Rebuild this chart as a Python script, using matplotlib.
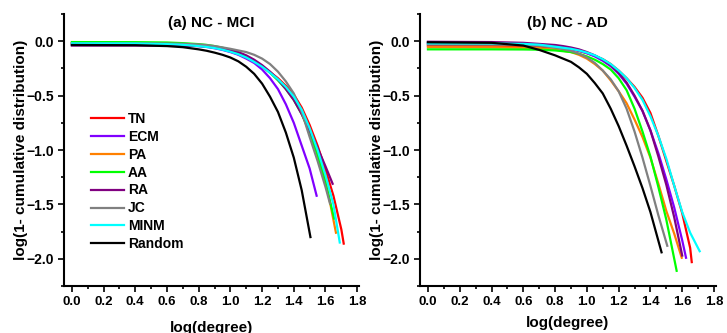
import matplotlib
matplotlib.use("Agg")
import matplotlib.pyplot as plt
from matplotlib.ticker import MultipleLocator

plt.rcParams['font.family'] = ['Liberation Sans', 'DejaVu Sans']
plt.rcParams['font.weight'] = 'bold'

labels = ['TN', 'ECM', 'PA', 'AA', 'RA', 'JC', 'MINM', 'Random']
colors = ['#ff0000', '#8000ff', '#ff8000', '#00ff00', '#800080', '#808080', '#00ffff', '#000000']

# shared x positions (log degree) where values were read
xs = [0, 0.4, 0.6, 0.7, 0.8, 0.85, 0.9, 0.95, 1.0, 1.05, 1.1, 1.15, 1.2, 1.25,
      1.3, 1.35, 1.4, 1.45, 1.5, 1.55, 1.6, 1.65, 1.7]

# (a) NC - MCI : values on xs, then the last point of each curve
a_tn = [-0.02, -0.021, -0.025, -0.03, -0.04, -0.048, -0.06, -0.075, -0.095, -0.12, -0.15, -0.19, -0.235,
        -0.285, -0.34, -0.41, -0.49, -0.61, -0.77, -0.96, -1.18, -1.42, -1.73]
a_tn_end = (1.715, -1.86)
a_ecm = [-0.03, -0.03, -0.032, -0.036, -0.045, -0.053, -0.065, -0.08, -0.10, -0.125, -0.16, -0.20, -0.26,
         -0.34, -0.44, -0.58, -0.75, -0.96, -1.17]
a_ecm_end = (1.544, -1.42)
a_pa = [-0.015, -0.016, -0.02, -0.025, -0.035, -0.043, -0.053, -0.068, -0.088, -0.113, -0.145, -0.185, -0.23,
        -0.285, -0.35, -0.43, -0.52, -0.64, -0.81, -1.02, -1.27]
a_pa_end = (1.666, -1.76)
a_aa = [-0.008, -0.009, -0.012, -0.018, -0.027, -0.034, -0.045, -0.06, -0.08, -0.107, -0.14, -0.18, -0.23,
        -0.29, -0.36, -0.44, -0.54, -0.67, -0.84, -1.05, -1.30]
a_aa_end = (1.655, -1.63)
a_ra = [-0.04, -0.04, -0.041, -0.043, -0.045, -0.05, -0.057, -0.067, -0.08, -0.10, -0.13, -0.17, -0.22,
        -0.28, -0.35, -0.44, -0.54, -0.67, -0.82, -0.98, -1.15]
a_ra_end = (1.645, -1.31)
a_jc = [-0.02, -0.02, -0.021, -0.024, -0.03, -0.036, -0.045, -0.057, -0.07, -0.085, -0.10, -0.125, -0.16,
        -0.21, -0.28, -0.37, -0.48, -0.65, -0.88, -1.10, -1.34]
a_jc_end = (1.628, -1.49)
a_minm = [-0.02, -0.021, -0.027, -0.033, -0.045, -0.053, -0.063, -0.078, -0.097, -0.12, -0.15, -0.19, -0.235,
          -0.29, -0.35, -0.42, -0.51, -0.63, -0.80, -1.00, -1.23, -1.50]
a_minm_end = (1.69, -1.85)
a_rand = [-0.035, -0.037, -0.045, -0.055, -0.075, -0.088, -0.105, -0.125, -0.15, -0.185, -0.235, -0.30, -0.39,
          -0.51, -0.65, -0.84, -1.07, -1.37]
a_rand_end = (1.505, -1.80)

# (b) NC - AD
b_tn = [-0.04, -0.041, -0.045, -0.05, -0.058, -0.065, -0.075, -0.09, -0.11, -0.135, -0.165, -0.21, -0.27,
        -0.34, -0.42, -0.52, -0.66, -0.87, -1.10, -1.33, -1.58, -1.90]
b_tn_end = (1.66, -2.03)
b_ecm = [-0.02, -0.021, -0.025, -0.033, -0.05, -0.058, -0.07, -0.087, -0.11, -0.14, -0.18, -0.23, -0.30,
         -0.39, -0.51, -0.64, -0.82, -1.03, -1.27, -1.53, -1.83]
b_ecm_end = (1.624, -1.99)
b_pa = [-0.055, -0.056, -0.06, -0.065, -0.078, -0.088, -0.10, -0.125, -0.16, -0.21, -0.27, -0.36, -0.46,
        -0.57, -0.72, -0.88, -1.07, -1.31, -1.56, -1.77]
b_pa_end = (1.597, -1.99)
b_aa = [-0.075, -0.075, -0.076, -0.078, -0.085, -0.092, -0.10, -0.115, -0.14, -0.17, -0.21, -0.26, -0.34,
        -0.45, -0.62, -0.83, -1.06, -1.34, -1.64]
b_aa_end = (1.565, -2.11)
b_ra = [-0.005, -0.008, -0.015, -0.025, -0.035, -0.045, -0.058, -0.075, -0.10, -0.13, -0.17, -0.22, -0.29,
        -0.38, -0.50, -0.64, -0.82, -1.06, -1.32, -1.62]
b_ra_end = (1.60, -1.97)
b_jc = [-0.03, -0.031, -0.035, -0.042, -0.06, -0.073, -0.09, -0.115, -0.15, -0.20, -0.27, -0.35, -0.46,
        -0.62, -0.83, -1.07, -1.33, -1.60]
b_jc_end = (1.506, -1.88)
b_minm = [-0.02, -0.021, -0.025, -0.032, -0.05, -0.06, -0.07, -0.085, -0.105, -0.13, -0.165, -0.21, -0.27,
          -0.34, -0.43, -0.54, -0.69, -0.87, -1.08, -1.33, -1.57, -1.76]
b_minm_end = (1.71, -1.93)
b_rand = [-0.01, -0.015, -0.04, -0.08, -0.13, -0.16, -0.19, -0.24, -0.30, -0.385, -0.48, -0.62, -0.78,
          -0.96, -1.15, -1.35, -1.57]
b_rand_end = (1.47, -1.94)

panel_a = [(a_tn, a_tn_end), (a_ecm, a_ecm_end), (a_pa, a_pa_end), (a_aa, a_aa_end),
           (a_ra, a_ra_end), (a_jc, a_jc_end), (a_minm, a_minm_end), (a_rand, a_rand_end)]
panel_b = [(b_tn, b_tn_end), (b_ecm, b_ecm_end), (b_pa, b_pa_end), (b_aa, b_aa_end),
           (b_ra, b_ra_end), (b_jc, b_jc_end), (b_minm, b_minm_end), (b_rand, b_rand_end)]

fig = plt.figure(figsize=(7.27, 3.33), dpi=100)
ax1 = fig.add_axes([0.088, 0.141, 0.4055, 0.817])
ax2 = fig.add_axes([0.5777, 0.141, 0.4066, 0.817])

for ax, data, title, xl_y in [(ax1, panel_a, '(a) NC - MCI', -0.13),
                              (ax2, panel_b, '(b) NC - AD', -0.11)]:
    for (y, end), lab, c in zip(data, labels, colors):
        x = xs[:len(y)] + [end[0]]
        ax.plot(x, y + [end[1]], color=c, lw=1.6, label=lab)
    ax.set_xlim(-0.05, 1.81)
    ax.set_ylim(-2.25, 0.25)
    ax.xaxis.set_minor_locator(MultipleLocator(0.1))
    ax.yaxis.set_minor_locator(MultipleLocator(0.25))
    ax.set_xticks([0, 0.2, 0.4, 0.6, 0.8, 1.0, 1.2, 1.4, 1.6, 1.8])
    ax.set_yticks([0.0, -0.5, -1.0, -1.5, -2.0])
    ax.tick_params(which='major', direction='out', length=4, width=1.2, pad=3)
    ax.tick_params(which='minor', direction='out', length=2.5, width=1.2)
    ax.tick_params(axis='x', labelsize=9.5)
    ax.tick_params(axis='y', labelsize=10)
    for s in ['top', 'right']:
        ax.spines[s].set_visible(False)
    for s in ['left', 'bottom']:
        ax.spines[s].set_linewidth(1.5)
    ax.set_xlabel('log(degree)', fontsize=11, fontweight='bold')
    ax.set_ylabel('log(1- cumulative distribution)', fontsize=11, fontweight='bold')
    ax.xaxis.set_label_coords(0.5, xl_y)
    ax.yaxis.set_label_coords(-0.123, 0.5)
    ax.text(0.5, 0.967, title, transform=ax.transAxes, ha='center', va='center',
            fontsize=11, fontweight='bold')

ax1.legend(loc='upper left', bbox_to_anchor=(0.09, 0.64), frameon=False,
           fontsize=10, handlelength=2.4, handletextpad=0.3, labelspacing=0.28,
           borderpad=0, borderaxespad=0)

fig.savefig('out.png', dpi=100)
